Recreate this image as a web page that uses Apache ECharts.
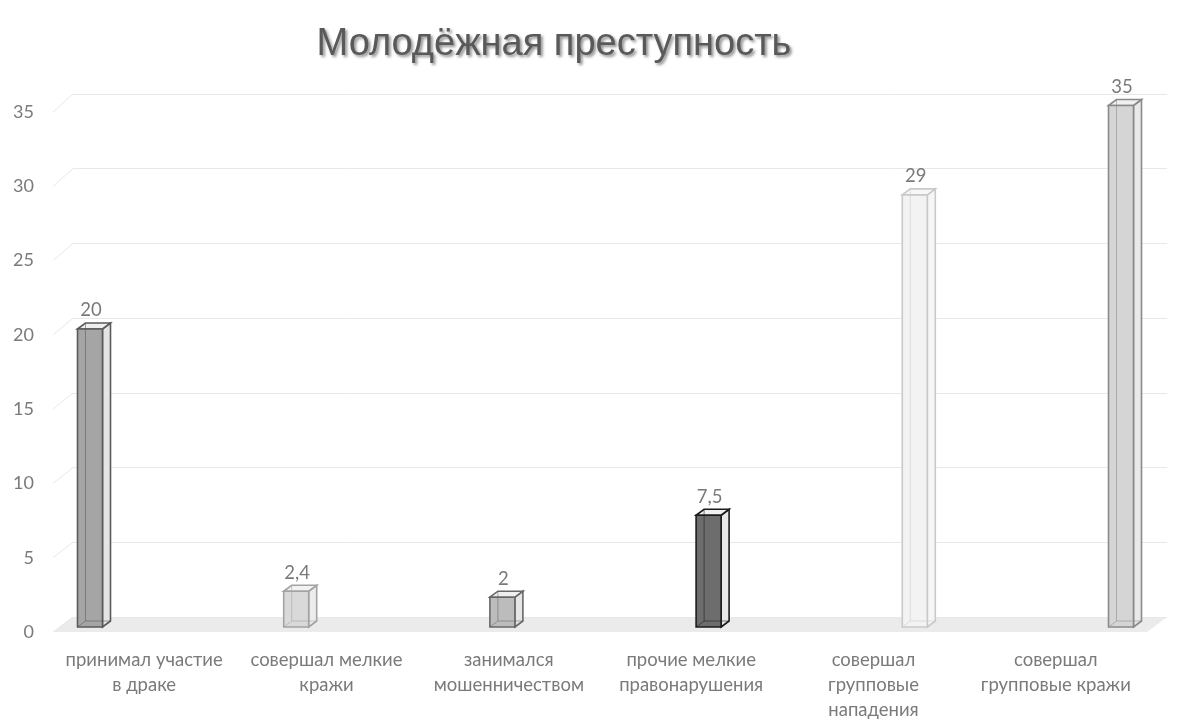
<!DOCTYPE html>
<html><head><meta charset="utf-8">
<script src="https://cdn.jsdelivr.net/npm/echarts@6/dist/echarts.min.js"></script>
<style>html,body{margin:0;padding:0;background:#fff}#c{width:1200px;height:726px}</style>
</head><body><div id="c"></div>
<script>
const categories = [
  'принимал участие\nв драке',
  'совершал мелкие\nкражи',
  'занимался\nмошенничеством',
  'прочие мелкие\nправонарушения',
  'совершал\nгрупповые\nнападения',
  'совершал\nгрупповые кражи'
];
const values = [20, 2.4, 2, 7.5, 29, 35];
const yMin = 0, yMax = 35, yStep = 5;

// styles (per bar): front, edge, side, top
const barStyles = [
  {front:'#a5a5a5', edge:'#5a5a5a', side:'#e4e4e4', top:'#eeeeee'},
  {front:'#d9d9d9', edge:'#a3a3a3', side:'#ececec', top:'#f3f3f3'},
  {front:'#bcbcbc', edge:'#686868', side:'#e6e6e6', top:'#efefef'},
  {front:'#6d6d6d', edge:'#1c1c1c', side:'#e8e8e8', top:'#f0f0f0'},
  {front:'#f3f3f3', edge:'#c9c9c9', side:'#f6f6f6', top:'#f8f8f8'},
  {front:'#d5d5d5', edge:'#8a8a8a', side:'#e9e9e9', top:'#f0f0f0'}
];

const FONT = 'Lato, "Noto Sans", sans-serif';
const TXT = '#7a7a7a';
const BW = 25, DX = 8, DY = -6;

const chart = echarts.init(document.getElementById('c'));
const fmt = v => String(v).replace('.', ',');

chart.setOption({
  animation: false,
  backgroundColor: '#fff',
  title: {
    text: 'Молодёжная преступность',
    left: 549, top: 21, textAlign: 'center',
    textStyle: {
      fontFamily: '"Liberation Sans", Arial, sans-serif', fontSize: 38, fontWeight: 'normal',
      color: '#595959', textShadowColor: 'rgba(0,0,0,0.45)', textShadowBlur: 3,
      textShadowOffsetX: 2, textShadowOffsetY: 2
    }
  },
  grid: [
    {left: 53, right: 53, top: 112, bottom: 94},
    {left: 73, right: 33, top: 94, bottom: 109},
    {left: 90, right: 79, top: 105.5, bottom: 99}
  ],
  xAxis: [
    {gridIndex: 0, type: 'category', data: categories,
     axisLine: {show: false}, axisTick: {show: false},
     axisLabel: {interval: 0, margin: 16, color: TXT, fontSize: 18.5, fontFamily: FONT, lineHeight: 25}},
    {gridIndex: 1, type: 'category', data: categories, show: false},
    {gridIndex: 2, type: 'value', min: 0, max: categories.length - 1, show: false}
  ],
  yAxis: [
    {gridIndex: 0, type: 'value', min: yMin, max: yMax, interval: yStep,
     axisLine: {show: false}, axisTick: {show: false}, splitLine: {show: false},
     axisLabel: {margin: 19, color: TXT, fontSize: 18, fontFamily: FONT}},
    {gridIndex: 1, type: 'value', min: yMin, max: yMax, interval: yStep,
     axisLine: {show: false}, axisTick: {show: false}, axisLabel: {show: false},
     splitLine: {show: true, lineStyle: {color: '#e8e8e8', width: 1}}},
    {gridIndex: 2, type: 'value', min: yMin, max: yMax, show: false}
  ],
  series: [{
    type: 'custom',
    xAxisIndex: 2, yAxisIndex: 2,
    data: values.map((v, i) => [i, v]),
    renderItem: function (params, api) {
      const i = api.value(0), v = api.value(1);
      const top = api.coord([i, v]);
      const bot = api.coord([i, 0]);
      const xl = top[0] - BW / 2, xr = top[0] + BW / 2;
      const yt = top[1], yb = bot[1];
      const s = barStyles[params.dataIndex];
      const lw = 1.6;
      return {
        type: 'group',
        children: [
          {type: 'polygon', shape: {points: [[xr, yb], [xr + DX, yb + DY], [xr + DX, yt + DY], [xr, yt]]},
           style: {fill: s.side, stroke: s.edge, lineWidth: lw}},
          {type: 'polygon', shape: {points: [[xl, yt], [xl + DX, yt + DY], [xr + DX, yt + DY], [xr, yt]]},
           style: {fill: s.top, stroke: s.edge, lineWidth: lw}},
          {type: 'rect', shape: {x: xl, y: yt, width: BW, height: yb - yt},
           style: {fill: s.front, stroke: s.edge, lineWidth: lw}},
          {type: 'polyline', shape: {points: [[xl + DX, yt + DY], [xl + DX, yb + DY], [xr + DX, yb + DY]]},
           style: {fill: null, stroke: s.edge, lineWidth: 1, opacity: 0.55}},
          {type: 'line', shape: {x1: xl, y1: yb, x2: xl + DX, y2: yb + DY},
           style: {stroke: s.edge, lineWidth: 1, opacity: 0.55}},
          {type: 'text', style: {text: fmt(v), x: top[0] + 1, y: yt + DY - 3,
            align: 'center', verticalAlign: 'bottom', fill: TXT, fontSize: 18.5, fontFamily: FONT}}
        ]
      };
    }
  }]
});

// floor and left side wall lines from axis scales
const fy = v => chart.convertToPixel({yAxisIndex: 0}, v);
const by = v => chart.convertToPixel({yAxisIndex: 1}, v);
const FL = 53, FR = 1147, BL = 73, BR = 1167;
const gfx = [{
  type: 'polygon', z: -1,
  shape: {points: [[FL, fy(0)], [FR, fy(0)], [BR, by(0)], [BL, by(0)]]},
  style: {fill: '#ebebeb'}
}];
for (let v = yMin; v <= yMax; v += yStep) {
  gfx.push({type: 'line', z: -1, shape: {x1: FL, y1: fy(v), x2: BL, y2: by(v)},
    style: {stroke: '#e8e8e8', lineWidth: 1}});
}
chart.setOption({graphic: gfx});
</script>
</body></html>
